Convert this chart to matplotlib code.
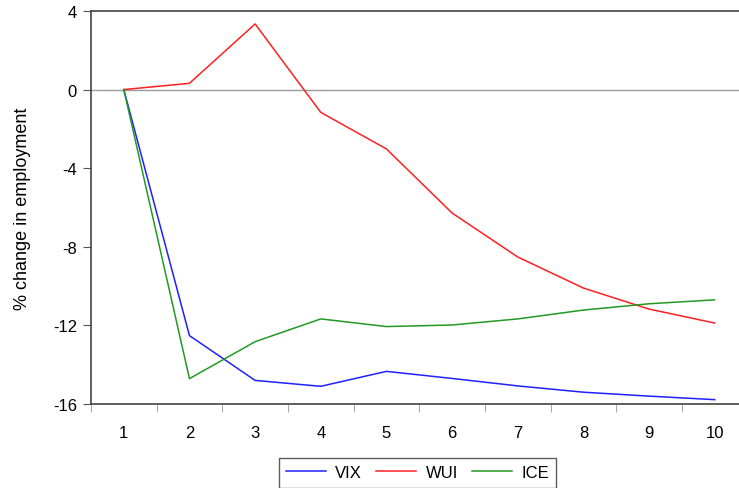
import matplotlib
matplotlib.use("Agg")
import matplotlib.pyplot as plt

plt.rcParams['font.family'] = ['Liberation Sans', 'DejaVu Sans']
plt.rcParams['axes.unicode_minus'] = False

horizon = [1, 2, 3, 4, 5, 6, 7, 8, 9, 10]
vix = [0.0, -12.52, -14.80, -15.10, -14.34, -14.70, -15.08, -15.40, -15.60, -15.78]
wui = [0.0, 0.32, 3.34, -1.16, -3.02, -6.28, -8.52, -10.10, -11.17, -11.88]
ice = [0.0, -14.71, -12.83, -11.67, -12.06, -11.98, -11.67, -11.22, -10.90, -10.70]

fig = plt.figure(figsize=(7.39, 4.89), dpi=100)
ax = fig.add_axes([0.1231, 0.1718, 0.8769, 0.8037])

ax.axhline(0, color='#9a9a9a', lw=1.0, zorder=1)
ax.plot(horizon, vix, color='#2020ff', lw=1.1, label='VIX')
ax.plot(horizon, wui, color='#ff2020', lw=1.1, label='WUI')
ax.plot(horizon, ice, color='#229922', lw=1.1, label='ICE')

ax.set_xlim(0.5, 10.37)
ax.set_ylim(-16, 4)
ax.set_yticks([4, 0, -4, -8, -12, -16])
ax.set_xticks(horizon)
ax.set_xticks([h + 0.5 for h in [0] + horizon[:-1]], minor=True)
ax.tick_params(axis='x', which='major', length=0, labelsize=12, pad=15)
ax.tick_params(axis='x', which='minor', length=6, color='#999999')
ax.tick_params(axis='y', length=6, labelsize=12, color='#555555', pad=4)

ax.spines['right'].set_visible(False)
for s in ['left', 'bottom', 'top']:
    ax.spines[s].set_color('#444444')
    ax.spines[s].set_linewidth(1.2)

ax.set_ylabel('% change in employment', fontsize=13, labelpad=16)

leg = ax.legend(loc='upper center', bbox_to_anchor=(0.504, -0.137), ncol=3,
                frameon=True, fancybox=False, fontsize=12, handlelength=2.4,
                handletextpad=0.55, columnspacing=0.85, borderpad=0.45,
                borderaxespad=0, edgecolor='#333333')
leg.get_frame().set_linewidth(1.0)

fig.savefig('out.png', dpi=100)
